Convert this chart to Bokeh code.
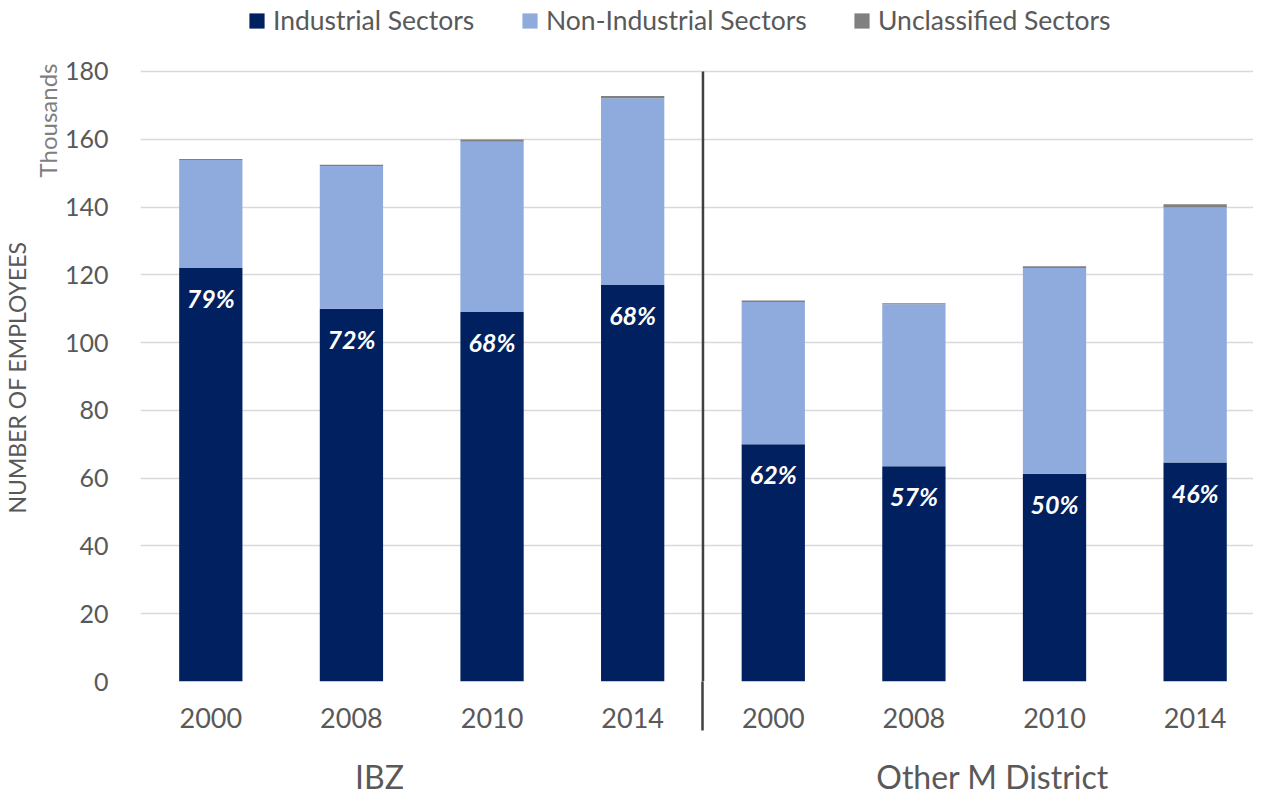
from bokeh.plotting import figure
from bokeh.models import (ColumnDataSource, Range1d, FixedTicker, LinearAxis, Title,
                          Legend, LegendItem)
from bokeh.core.properties import value
from bokeh.embed import file_html
from bokeh.resources import INLINE

# ---------------- data ----------------
groups = ["IBZ", "Other M District"]
years = ["2000", "2008", "2010", "2014", "2000", "2008", "2010", "2014"]
industrial = [122.0, 110.0, 109.0, 117.0, 70.0, 63.5, 61.3, 64.6]
non_industrial = [31.9, 42.1, 50.3, 55.1, 42.0, 47.8, 60.7, 75.3]
unclassified = [0.3, 0.4, 0.6, 0.7, 0.4, 0.3, 0.5, 0.9]
share_labels = ["79%", "72%", "68%", "68%", "62%", "57%", "50%", "46%"]
y_ticks = [0, 20, 40, 60, 80, 100, 120, 140, 160, 180]
series_names = ["Industrial Sectors", "Non-Industrial Sectors", "Unclassified Sectors"]

# ---------------- style ----------------
FONT = "Lato"
TXT = "#595959"
colors = ["#002060", "#8FAADC", "#808080"]
group_label_pos = [1.2, 5.56]
y_top = 200.95          # frame extends above 180 to host the legend
sep_x = 3.5

xs = list(range(len(years)))
src = ColumnDataSource(dict(x=xs, ind=industrial, non=non_industrial,
                            unc=unclassified, lab=share_labels))

p = figure(width=1253, height=798, output_backend="svg", toolbar_location=None,
           x_range=Range1d(-0.5, 7.415), y_range=Range1d(0, y_top),
           min_border_left=129, min_border_right=0, min_border_top=0,
           min_border_bottom=117)
p.outline_line_color = None
p.background_fill_color = "white"
p.border_fill_color = "white"

renderers = p.vbar_stack(["ind", "non", "unc"], x="x", width=0.45, source=src,
                         fill_color=colors, line_color=None)

p.text(x="x", y="ind", text="lab", source=src, text_color="white",
       text_font=value(FONT), text_font_style="bold italic", text_font_size="25px",
       text_align="center", text_baseline="middle", y_offset=30)

# separator between groups (inside the frame; continued below by a minor tick)
p.segment(x0=[sep_x], y0=[0], x1=[sep_x], y1=[y_ticks[-1]],
          line_color="#404040", line_width=2.5)

# y axis
ya = p.yaxis[0]
ya.ticker = FixedTicker(ticks=y_ticks)
ya.axis_line_color = None
ya.major_tick_line_color = None
ya.minor_tick_line_color = None
ya.major_label_text_font = FONT
ya.major_label_text_font_size = "25px"
ya.major_label_text_color = TXT
ya.major_label_standoff = 26

p.add_layout(Title(text="Thousands", align="right", text_font=FONT,
                   text_font_size="24px", text_font_style="normal",
                   text_color="#7F7F7F", standoff=0, offset=63), "left")
p.add_layout(Title(text="NUMBER OF EMPLOYEES", align="right", text_font=FONT,
                   text_font_size="23px", text_font_style="normal",
                   text_color=TXT, standoff=0, offset=241), "left")

p.ygrid.ticker = FixedTicker(ticks=y_ticks)
p.ygrid.grid_line_color = "#D9D9D9"
p.ygrid.grid_line_width = 1.5
p.xgrid.visible = False

# x axis: years
xa = p.xaxis[0]
xa.ticker = FixedTicker(ticks=xs, minor_ticks=[sep_x])
xa.major_label_overrides = {i: y for i, y in zip(xs, years)}
xa.axis_line_color = None
xa.major_tick_line_color = None
xa.minor_tick_in = 0
xa.minor_tick_out = 49
xa.minor_tick_line_color = "#404040"
xa.minor_tick_line_width = 2.5
xa.major_label_text_font = FONT
xa.major_label_text_font_size = "27px"
xa.major_label_text_color = TXT
xa.major_label_standoff = -23

# x axis: groups
ga = LinearAxis(ticker=FixedTicker(ticks=group_label_pos),
                major_label_overrides={group_label_pos[0]: groups[0],
                                       group_label_pos[1]: groups[1]})
ga.axis_line_color = None
ga.major_tick_line_color = None
ga.minor_tick_line_color = None
ga.major_label_text_font = FONT
ga.major_label_text_font_size = "32px"
ga.major_label_text_color = TXT
ga.major_label_standoff = 20
p.add_layout(ga, "below")

# legends along the top (one per series)
leg_x = [107, 380, 712]
for name, r, lx in zip(series_names, renderers, leg_x):
    lg = Legend(items=[LegendItem(label=name, renderers=[r])], location=(lx, 645),
                orientation="horizontal", padding=0, margin=0, spacing=0,
                border_line_color=None, background_fill_alpha=0,
                glyph_width=19, glyph_height=19, label_standoff=7,
                label_text_font=FONT, label_text_font_size="26.5px",
                label_text_color=TXT)
    p.add_layout(lg)

open("out.html", "w").write(file_html(p, INLINE))
